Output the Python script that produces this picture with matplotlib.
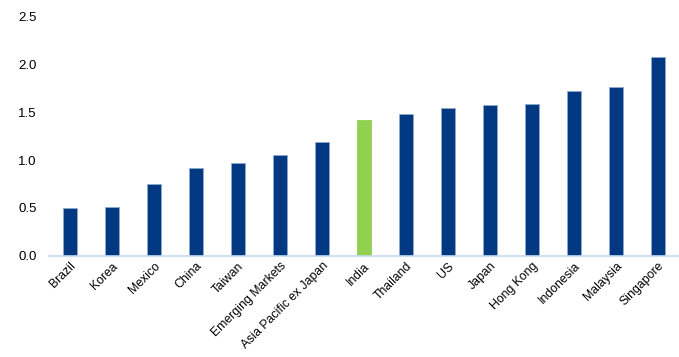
import matplotlib
matplotlib.use('Agg')
import matplotlib.pyplot as plt
import numpy as np

plt.rcParams['font.family'] = ['Liberation Sans', 'DejaVu Sans']

countries = ['Brazil', 'Korea', 'Mexico', 'China', 'Taiwan', 'Emerging Markets',
             'Asia Pacific ex Japan', 'India', 'Thailand', 'US', 'Japan',
             'Hong Kong', 'Indonesia', 'Malaysia', 'Singapore']
values = [0.50, 0.51, 0.75, 0.92, 0.97, 1.05, 1.19, 1.42, 1.48, 1.54, 1.57,
          1.58, 1.72, 1.76, 2.07]
highlight = 'India'

navy = '#003882'
green = '#92D050'
colors = [green if c == highlight else navy for c in countries]
edges = [green if c == highlight else '#8fa9cf' for c in countries]

fig = plt.figure(figsize=(6.79, 3.57), dpi=100)
ax = fig.add_axes([0.072, 0.283, 0.928, 0.672])

x = np.arange(len(countries))
ax.bar(x, values, width=0.33, color=colors, edgecolor=edges, linewidth=0.6)

ax.set_ylim(0, 2.5)
ax.set_xlim(-0.5, len(countries) - 0.5)
ax.set_yticks(np.arange(0, 2.51, 0.5))
ax.set_yticklabels(['%.1f' % v for v in np.arange(0, 2.51, 0.5)], fontsize=9.5)
ax.set_xticks(x)
ax.set_xticklabels(countries, rotation=45, ha='right', rotation_mode='anchor', fontsize=8.8)

for s in ['top', 'right', 'left']:
    ax.spines[s].set_visible(False)
ax.spines['bottom'].set_color('#c5d9f1')
ax.spines['bottom'].set_linewidth(1.2)
ax.tick_params(axis='both', length=0, colors='black')
ax.tick_params(axis='y', pad=9)
ax.tick_params(axis='x', pad=3)

fig.savefig('out.png', dpi=100)
